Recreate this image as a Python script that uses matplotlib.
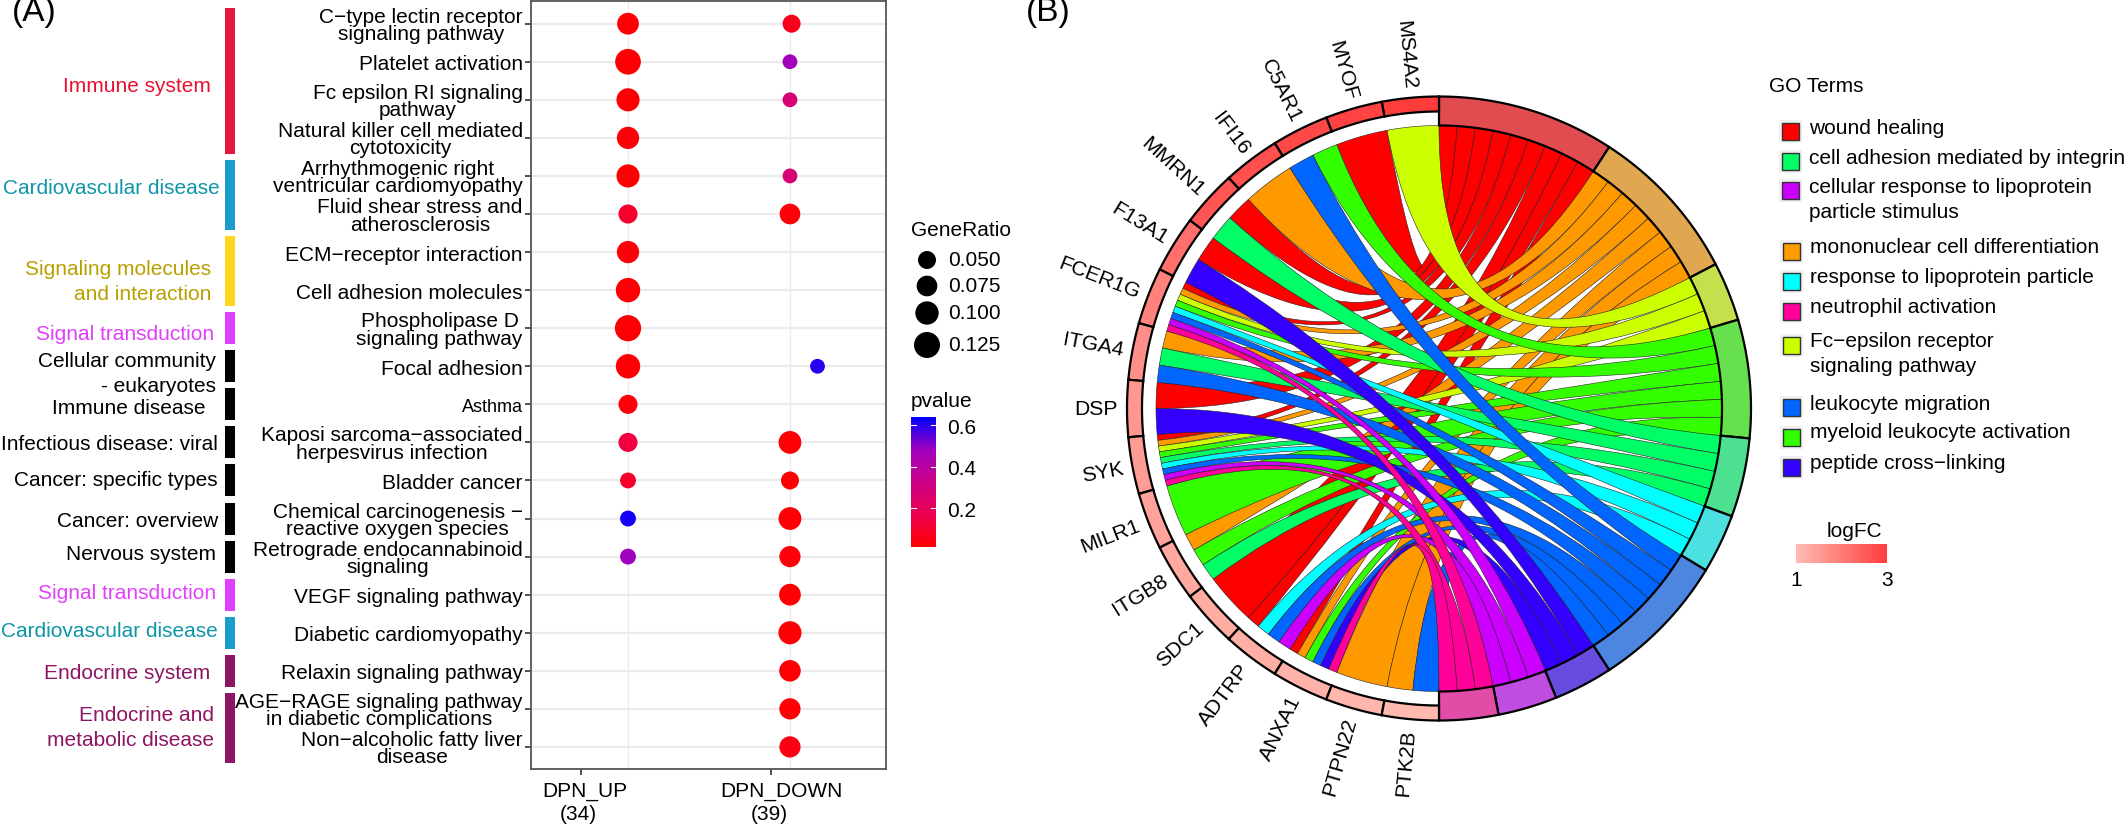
import numpy as np
import matplotlib
matplotlib.use("Agg")
import matplotlib.pyplot as plt
from matplotlib.cm import ScalarMappable
from matplotlib.colors import LinearSegmentedColormap, Normalize
from matplotlib.patches import PathPatch, Rectangle
from matplotlib.path import Path

plt.rcParams['font.family'] = ['Liberation Sans', 'DejaVu Sans']

W, H = 2128, 828

# ---- panel A data
pathways = ["C\u2212type lectin receptor\nsignaling pathway", "Platelet activation",
            "Fc epsilon RI signaling\npathway", "Natural killer cell mediated\ncytotoxicity",
            "Arrhythmogenic right\nventricular cardiomyopathy", "Fluid shear stress and\natherosclerosis",
            "ECM\u2212receptor interaction", "Cell adhesion molecules",
            "Phospholipase D\nsignaling pathway", "Focal adhesion", "Asthma",
            "Kaposi sarcoma\u2212associated\nherpesvirus infection", "Bladder cancer",
            "Chemical carcinogenesis \u2212\nreactive oxygen species",
            "Retrograde endocannabinoid\nsignaling", "VEGF signaling pathway",
            "Diabetic cardiomyopathy", "Relaxin signaling pathway",
            "AGE\u2212RAGE signaling pathway\nin diabetic complications",
            "Non\u2212alcoholic fatty liver\ndisease"]

up_rows = [1, 2, 3, 4, 5, 6, 7, 8, 9, 10, 11, 12, 13, 14, 15]
up_ratio = [0.085, 0.122, 0.098, 0.09, 0.098, 0.06, 0.09, 0.11, 0.127, 0.11, 0.06, 0.06, 0.03, 0.03, 0.03]
up_p = [0.02, 0.02, 0.02, 0.03, 0.02, 0.10, 0.03, 0.02, 0.02, 0.02, 0.03, 0.14, 0.10, 0.62, 0.48]

down_rows = [1, 2, 3, 5, 6, 10, 12, 13, 14, 15, 16, 17, 18, 19, 20]
down_x = [2.01, 2, 2, 2, 2, 2.17, 2, 2, 2, 2, 2, 2, 2, 2, 2]
down_ratio = [0.05, 0.02, 0.02, 0.02, 0.075, 0.02, 0.095, 0.05, 0.095, 0.08, 0.085, 0.098, 0.083, 0.08, 0.08]
down_p = [0.07, 0.47, 0.27, 0.27, 0.03, 0.60, 0.02, 0.02, 0.02, 0.03, 0.02, 0.02, 0.02, 0.02, 0.05]

legend_ratio = [0.050, 0.075, 0.100, 0.125]

groups = ["Immune system", "Cardiovascular disease", "Signaling molecules\nand interaction",
          "Signal transduction", "Cellular community\n- eukaryotes", "Immune disease",
          "Infectious disease: viral", "Cancer: specific types", "Cancer: overview",
          "Nervous system", "Signal transduction", "Cardiovascular disease",
          "Endocrine system", "Endocrine and\nmetabolic disease"]
group_first = [1, 5, 7, 9, 10, 11, 12, 13, 14, 15, 16, 17, 18, 19]
group_last = [4, 6, 8, 9, 10, 11, 12, 13, 14, 15, 16, 17, 18, 20]

# ---- panel B data
genes = ["MS4A2", "MYOF", "C5AR1", "IFI16", "MMRN1", "F13A1", "FCER1G", "ITGA4", "DSP",
         "SYK", "MILR1", "ITGB8", "SDC1", "ADTRP", "ANXA1", "PTPN22", "PTK2B"]
logfc = [3.0, 2.9, 2.8, 2.7, 2.6, 2.2, 1.9, 1.7, 1.6, 1.5, 1.4, 1.3, 1.25, 1.2, 1.15, 1.1, 1.05]

terms = ["wound healing", "mononuclear cell differentiation", "Fc\u2212epsilon receptor\nsignaling pathway",
         "myeloid leukocyte activation", "cell adhesion mediated by integrin",
         "response to lipoprotein particle", "leukocyte migration", "peptide cross\u2212linking",
         "cellular response to lipoprotein\nparticle stimulus", "neutrophil activation"]
W_, MO, FC, MY, AD, CY, LE, PE, PU, NE = range(10)

gene_terms = [[FC], [W_], [MY, LE], [MO], [W_, AD], [W_, PE],
              [W_, MO, FC, MY, CY, LE, PU, NE], [MO, AD, LE], [W_, PE],
              [W_, MO, FC, MY, AD, CY, LE, PU, NE], [MY], [MO, MY, AD], [W_],
              [W_, CY, LE, PU], [W_, MO, MY, LE, PE, NE], [MO], [MO, LE]]

# ---- styles
ribbon_colors = ["#FF0000", "#FF9900", "#CCFF00", "#33FF00", "#00FF66",
                 "#00FFFF", "#0066FF", "#3300FF", "#CC00FF", "#FF0099"]
ring_colors = ["#E04C50", "#E0A650", "#C4E04C", "#66E04C", "#4CE090",
               "#4CE0E0", "#4C86E0", "#684CE0", "#C04CE0", "#E04CA6"]
group_colors = ["#E5173A", "#1B9CC9", "#FFD520", "#E040FB", "#000000", "#000000", "#000000",
                "#000000", "#000000", "#000000", "#E040FB", "#1B9CC9", "#8E1464", "#8E1464"]
group_text = ["#E8112D", "#0E96A8", "#B8A000", "#E040FB", "#000000", "#000000", "#000000",
              "#000000", "#000000", "#000000", "#E040FB", "#0E96A8", "#8E1464", "#8E1464"]
group_text_x = [211, 220, 211, 214, 216, 205, 218, 218, 218, 216, 216, 218, 210, 214]
group_text_y = [86, 188, 282, 335, 374, 409, 445, 481, 522, 555, 594, 632, 674, 728]

pcmap = LinearSegmentedColormap.from_list(
    "pv", ["#FF0000", "#EC0050", "#CC0088", "#9F00C0", "#0000FF"])
pnorm = Normalize(0.012, 0.64)
fc_cmap = LinearSegmentedColormap.from_list("fc", ["#FFBCB2", "#FF3C3C"])
fc_norm = Normalize(1, 3)


def rect(l, t, r, b):
    return [l / W, 1 - b / H, (r - l) / W, (b - t) / H]


def dot_size(ratio):
    # legend dots go from 18 px to 26 px
    d = 18 + (np.asarray(ratio) - 0.05) / 0.075 * 8
    d = np.maximum(d, 11)
    return (d * 0.72) ** 2


fig = plt.figure(figsize=(W / 100, H / 100), dpi=100, facecolor="white")

# ---- dot plot
ax = fig.add_axes(rect(531, 2, 886, 770))
ax.set_xlim(0.401, 2.593)
ax.set_ylim(20.58, 0.404)
for r in range(1, 21):
    ax.axhline(r, color="#EBEBEB", lw=1.6, zorder=1)
ax.axvline(1, color="#EBEBEB", lw=1.0, zorder=1)
ax.axvline(2, color="#EBEBEB", lw=1.0, zorder=1)
ax.scatter([1] * len(up_rows), up_rows, s=dot_size(up_ratio), c=up_p, cmap=pcmap, norm=pnorm,
           linewidths=0, zorder=3)
sc = ax.scatter(down_x, down_rows, s=dot_size(down_ratio), c=down_p, cmap=pcmap, norm=pnorm,
                linewidths=0, zorder=3)
ax.set_yticks(range(1, 21))
ax.set_yticklabels(pathways, fontsize=15, linespacing=0.9, multialignment="center")
ax.get_yticklabels()[10].set_fontsize(13)
ax.set_xticks([0.71, 1.886])
ax.set_xticklabels(["", ""])
ax.tick_params(axis="both", length=4, width=1.2, color="#333333", pad=2)
for s in ax.spines.values():
    s.set_color("#555555")
    s.set_linewidth(1.3)

# ---- pathway class bars
bar_ax = fig.add_axes(rect(224.5, 2, 235, 770))
bar_ax.set_xlim(0, 1)
bar_ax.set_ylim(20.58, 0.404)
bar_ax.axis("off")
for first, last, col in zip(group_first, group_last, group_colors):
    bar_ax.barh((first + last) / 2, 1, height=last - first + 0.84, color=col)

# ---- overlay for free text, pixel coordinates
txt = fig.add_axes([0, 0, 1, 1], facecolor="none")
txt.set_xlim(0, W)
txt.set_ylim(H, 0)
txt.axis("off")

txt.text(34, 13, "(A)", fontsize=24, ha="center", va="center")
txt.text(1048, 13, "(B)", fontsize=24, ha="center", va="center")

for name, col, x, y in zip(groups, group_text, group_text_x, group_text_y):
    txt.text(x, y, name, color=col, fontsize=15, ha="right", va="center", linespacing=1.45,
             multialignment="right")

txt.text(585, 792, "DPN_UP", fontsize=15, ha="center", va="center")
txt.text(578, 815, "(34)", fontsize=15, ha="center", va="center")
txt.text(781, 792, "DPN_DOWN", fontsize=15, ha="center", va="center")
txt.text(769, 815, "(39)", fontsize=15, ha="center", va="center")

# size legend
txt.text(911, 231, "GeneRatio", fontsize=15, ha="left", va="center")
leg_y = [261, 287, 314, 346]
txt.scatter([927] * 4, leg_y, s=dot_size(legend_ratio), c="black", linewidths=0)
for v, y in zip(legend_ratio, leg_y):
    txt.text(948, y, f"{v:.3f}", fontsize=15, ha="left", va="center")

# p value colour bar
txt.text(911, 402, "pvalue", fontsize=15, ha="left", va="center")
cax = fig.add_axes(rect(911, 418, 936, 548))
cb = fig.colorbar(sc, cax=cax)
cb.outline.set_visible(False)
cb.set_ticks([0.2, 0.4, 0.6])
cb.set_ticklabels(["0.2", "0.4", "0.6"], fontsize=15)
cb.ax.tick_params(length=0, pad=8)
for v in [0.2, 0.4, 0.6]:
    cax.plot([0, 0.2], [v, v], color="white", lw=0.8, transform=cax.get_yaxis_transform())
    cax.plot([0.8, 1], [v, v], color="white", lw=0.8, transform=cax.get_yaxis_transform())

# ---- chord diagram, angles clockwise from the top, radius 1 = outer ring
R_px = 312
chord = fig.add_axes(rect(1439 - R_px * 1.3, 409.5 - R_px * 1.3, 1439 + R_px * 1.3, 409.5 + R_px * 1.3))
chord.set_xlim(-1.3, 1.3)
chord.set_ylim(-1.3, 1.3)
chord.axis("off")
chord.patch.set_alpha(0)

R_rib = 283 / R_px
R_gene = 297 / R_px


def pt(deg, r):
    a = np.radians(deg)
    return np.array([r * np.sin(a), r * np.cos(a)])


def arc(d0, d1, r, n=40):
    return [pt(d, r) for d in np.linspace(d0, d1, n)]


def band(d0, d1, r0, r1, fc, lw):
    verts = arc(d0, d1, r1) + arc(d1, d0, r0)
    chord.fill(*zip(*verts), facecolor=fc, edgecolor="black", lw=lw, zorder=5)


n_links = sum(len(g) for g in gene_terms)
step = 180 / n_links
term_counts = [sum(g.count(t) for g in gene_terms) for t in range(len(terms))]

# outer blocks for the terms
term_start = {}
a = 0
for t, c in enumerate(term_counts):
    term_start[t] = a
    band(a, a + c * step, R_rib, 1, ring_colors[t], 1.6)
    a += c * step

# gene blocks run anticlockwise from the top, all the same width
gene_w = 180 / len(genes)
ribbons = []
next_pos = dict(term_start)
for i, tlist in enumerate(gene_terms):
    g0 = -i * gene_w
    w = gene_w / len(tlist)
    band(g0, g0 - gene_w, R_gene, 1, fc_cmap(fc_norm(logfc[i])), 1.6)
    for j, t in enumerate(tlist):
        ribbons.append((t, g0 - j * w, g0 - (j + 1) * w, next_pos[t], next_pos[t] + step))
        next_pos[t] += step

    mid = g0 - gene_w / 2
    x, y = pt(mid, 1.03)
    rot = np.degrees(np.arctan2(-y, -x))
    chord.text(x, y, genes[i], fontsize=15.2, rotation=rot, rotation_mode="anchor",
               ha="right", va="center")

# ribbons are quadratic curves through the centre
for t, ga, gb, ta, tb in sorted(ribbons, key=lambda q: q[0]):
    g_arc = arc(gb, ga, R_rib, 12)
    t_arc = arc(ta, tb, R_rib, 12)
    verts = list(g_arc)
    codes = [Path.MOVETO] + [Path.LINETO] * (len(g_arc) - 1)
    verts += [(0, 0), t_arc[0]]
    codes += [Path.CURVE3, Path.CURVE3]
    verts += t_arc[1:]
    codes += [Path.LINETO] * (len(t_arc) - 1)
    verts += [(0, 0), g_arc[0]]
    codes += [Path.CURVE3, Path.CURVE3]
    chord.add_patch(PathPatch(Path(np.array(verts, dtype=float), codes), facecolor=ribbon_colors[t],
                              edgecolor="#222222", lw=0.4, zorder=3))

# ---- GO legend
txt.text(1769, 86, "GO Terms", fontsize=15, ha="left", va="center")
legend_order = [W_, AD, PU, MO, CY, NE, FC, LE, MY, PE]
box_x = [1782, 1782, 1782, 1783, 1783, 1783, 1783, 1783, 1783, 1783]
box_y = [124, 153.5, 183, 244, 274, 303.5, 337.5, 400, 430, 459.5]
text_y = [128, 158, 200, 248, 278, 308, 354, 405, 433, 464]
for t, bx, by, ty in zip(legend_order, box_x, box_y, text_y):
    txt.add_patch(Rectangle((bx - 3, by - 3), 23, 23, facecolor="#F0F0F0", edgecolor="none"))
    txt.add_patch(Rectangle((bx, by), 17, 17, facecolor=ribbon_colors[t], edgecolor="#333333", lw=1.0))
    txt.text(bx + 27, ty, terms[t], fontsize=15, ha="left", va="center", linespacing=1.4)

# logFC bar
txt.text(1854, 532, "logFC", fontsize=15, ha="center", va="center")
fc_ax = fig.add_axes(rect(1796, 545, 1887, 564))
fc_bar = fig.colorbar(ScalarMappable(norm=fc_norm, cmap=fc_cmap), cax=fc_ax, orientation="horizontal")
fc_bar.outline.set_visible(False)
fc_bar.set_ticks([])
txt.text(1796, 581, "1", fontsize=15, ha="center", va="center")
txt.text(1887, 581, "3", fontsize=15, ha="center", va="center")

fig.savefig("out.png", dpi=100)
